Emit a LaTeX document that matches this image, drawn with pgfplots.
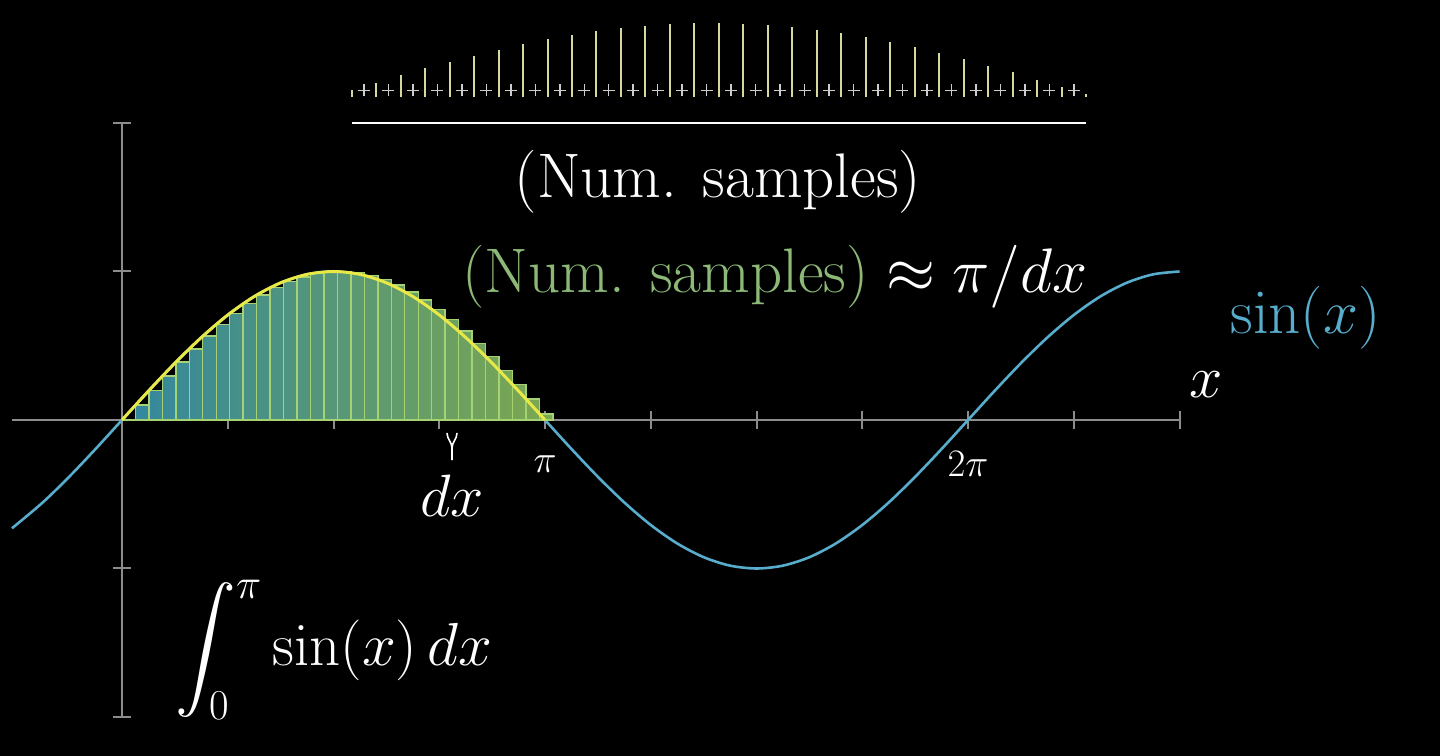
\RequirePackage{fix-cm}
\documentclass[border=0pt]{standalone}
\usepackage{pgfplots}
\pgfplotsset{compat=1.18}
\usetikzlibrary{backgrounds}
\DeclareFontShape{OMX}{cmex}{m}{n}{<->cmex10}{}

\definecolor{axisgray}{RGB}{140,140,140}
\definecolor{sinblue}{RGB}{88,172,204}
\definecolor{curveyellow}{RGB}{232,232,70}
\definecolor{barleft}{RGB}{50,135,160}
\definecolor{barmid}{RGB}{62,150,125}
\definecolor{barright}{RGB}{125,168,78}
\definecolor{edgecol}{RGB}{165,210,115}
\definecolor{numgreen}{RGB}{140,185,120}
\definecolor{toplines}{RGB}{215,215,160}
\definecolor{pluscol}{RGB}{205,205,205}

\newcommand{\bigfont}{\fontsize{31.6}{38}\selectfont}
\newcommand{\midfont}{\fontsize{30}{36}\selectfont}
\newcommand{\intfont}{\fontsize{30.5}{36}\selectfont}
\newcommand{\smallfont}{\fontsize{19.5}{23}\selectfont}

\begin{document}
\begin{tikzpicture}
\begin{axis}[
  x=67.325bp, y=74.25bp,
  xmin=-0.817, xmax=7.854, ymin=-2, ymax=2,
  axis lines=middle, enlargelimits=false, clip=false,
  axis line style={draw=axisgray, line width=1bp, -},
  xtick={0.7854,1.5708,2.3562,3.1416,3.9270,4.7124,5.4978,6.2832,7.0686,7.8539},
  xticklabels={,,,$\pi$,,,,$2\pi$,,},
  xticklabel style={font=\smallfont, text=white, anchor=center, yshift=-17.5bp},
  ytick={-2,-1,1,2},
  yticklabel={},
  tick align=center, major tick length=9bp,
  tick style={draw=axisgray, line width=1bp},
]
\coordinate (bl) at (axis cs:-0.9061,-2.2626);
\coordinate (tr) at (axis cs:9.7884,2.8283);
\coordinate (o2) at (axis cs:1.5240,2.1731);

% sin(x) over the whole range
\addplot[sinblue, line width=1.3bp, smooth, mark=none] coordinates {
(-0.817,-0.7291) (-0.5890,-0.55557) (-0.3927,-0.38268) (-0.19635,-0.19509)
(0,0) (0.19635,0.19509) (0.39270,0.38268) (0.58905,0.55557) (0.78540,0.70711)
(0.98175,0.83147) (1.17810,0.92388) (1.37445,0.98079) (1.57080,1)
(1.76715,0.98079) (1.96350,0.92388) (2.15984,0.83147) (2.35619,0.70711)
(2.55254,0.55557) (2.74889,0.38268) (2.94524,0.19509) (3.14159,0)
(3.33794,-0.19509) (3.53429,-0.38268) (3.73064,-0.55557) (3.92699,-0.70711)
(4.12334,-0.83147) (4.31969,-0.92388) (4.51604,-0.98079) (4.71239,-1)
(4.90874,-0.98079) (5.10509,-0.92388) (5.30144,-0.83147) (5.49779,-0.70711)
(5.69414,-0.55557) (5.89049,-0.38268) (6.08684,-0.19509) (6.28319,0)
(6.47953,0.19509) (6.67588,0.38268) (6.87223,0.55557) (7.06858,0.70711)
(7.26493,0.83147) (7.46128,0.92388) (7.65763,0.98079) (7.85398,1)};

% Riemann rectangles, dx = 0.1 (left endpoints)
\addplot[const plot, draw=none, left color=barleft, middle color=barmid, right color=barright, mark=none] coordinates {
(0,0) (0.1,0.0998) (0.2,0.1987) (0.3,0.2955) (0.4,0.3894) (0.5,0.4794)
(0.6,0.5646) (0.7,0.6442) (0.8,0.7174) (0.9,0.7833) (1.0,0.8415)
(1.1,0.8912) (1.2,0.9320) (1.3,0.9636) (1.4,0.9854) (1.5,0.9975)
(1.6,0.9996) (1.7,0.9917) (1.8,0.9738) (1.9,0.9463) (2.0,0.9093)
(2.1,0.8632) (2.2,0.8085) (2.3,0.7457) (2.4,0.6755) (2.5,0.5985)
(2.6,0.5155) (2.7,0.4274) (2.8,0.3350) (2.9,0.2392) (3.0,0.1411)
(3.1,0.0416) (3.2,0)} \closedcycle;
\addplot[ybar interval, draw=edgecol, line width=0.7bp, fill=none, mark=none] coordinates {
(0,0) (0.1,0.0998) (0.2,0.1987) (0.3,0.2955) (0.4,0.3894) (0.5,0.4794)
(0.6,0.5646) (0.7,0.6442) (0.8,0.7174) (0.9,0.7833) (1.0,0.8415)
(1.1,0.8912) (1.2,0.9320) (1.3,0.9636) (1.4,0.9854) (1.5,0.9975)
(1.6,0.9996) (1.7,0.9917) (1.8,0.9738) (1.9,0.9463) (2.0,0.9093)
(2.1,0.8632) (2.2,0.8085) (2.3,0.7457) (2.4,0.6755) (2.5,0.5985)
(2.6,0.5155) (2.7,0.4274) (2.8,0.3350) (2.9,0.2392) (3.0,0.1411)
(3.1,0.0416) (3.2,0)};

% highlighted arc from 0 to pi
\addplot[curveyellow, line width=1.5bp, smooth, mark=none] coordinates {
(0,0) (0.19635,0.19509) (0.39270,0.38268) (0.58905,0.55557) (0.78540,0.70711)
(0.98175,0.83147) (1.17810,0.92388) (1.37445,0.98079) (1.57080,1)
(1.76715,0.98079) (1.96350,0.92388) (2.15984,0.83147) (2.35619,0.70711)
(2.55254,0.55557) (2.74889,0.38268) (2.94524,0.19509) (3.14159,0)};

\node[text=white, font=\midfont] at (axis cs:8.05,0.236) {$x$};
\node[text=sinblue, font=\bigfont] at (axis cs:8.79,0.687) {$\sin(x)$};
\node[text=white, font=\midfont] at (axis cs:2.451,-0.512) {$dx$};
\draw[white, line width=0.8bp] (axis cs:2.4137,-0.0875) to[out=-90,in=90] (axis cs:2.4508,-0.19) -- (axis cs:2.4508,-0.27);
\draw[white, line width=0.8bp] (axis cs:2.4879,-0.0875) to[out=-90,in=90] (axis cs:2.4508,-0.19);
\node[text=white, font=\bigfont] at (axis cs:4.426,1.603) {(Num. samples)};
\node[text=white, font=\bigfont] at (axis cs:4.850,0.963) {$\mbox{\color{numgreen}(Num. samples)}\approx\pi/dx$};
\node[text=white, font=\intfont, anchor=base west, inner sep=0pt] at (axis cs:0.394,-1.650) {$\displaystyle\int_0^\pi \sin(x)\,dx$};
\end{axis}

% sample ruler above the chart
\begin{axis}[
  at={(o2)}, anchor=south west,
  x=12.24bp, y=37bp,
  xmin=0, xmax=32, ymin=0, ymax=1.1,
  hide axis, clip=false,
]
\addplot[ycomb, draw=toplines, line width=1bp, mark=none] coordinates {
(1,0.0998) (2,0.1987) (3,0.2955) (4,0.3894) (5,0.4794)
(6,0.5646) (7,0.6442) (8,0.7174) (9,0.7833) (10,0.8415)
(11,0.8912) (12,0.9320) (13,0.9636) (14,0.9854) (15,0.9975)
(16,0.9996) (17,0.9917) (18,0.9738) (19,0.9463) (20,0.9093)
(21,0.8632) (22,0.8085) (23,0.7457) (24,0.6755) (25,0.5985)
(26,0.5155) (27,0.4274) (28,0.3350) (29,0.2392) (30,0.1411)
(31,0.0416)};
\addplot[only marks, mark=+, mark size=3bp, mark options={draw=pluscol, line width=0.75bp}] coordinates {
(1.5,0.092) (2.5,0.092) (3.5,0.092) (4.5,0.092) (5.5,0.092) (6.5,0.092)
(7.5,0.092) (8.5,0.092) (9.5,0.092) (10.5,0.092) (11.5,0.092) (12.5,0.092)
(13.5,0.092) (14.5,0.092) (15.5,0.092) (16.5,0.092) (17.5,0.092) (18.5,0.092)
(19.5,0.092) (20.5,0.092) (21.5,0.092) (22.5,0.092) (23.5,0.092) (24.5,0.092)
(25.5,0.092) (26.5,0.092) (27.5,0.092) (28.5,0.092) (29.5,0.092) (30.5,0.092)};
\addplot[white, line width=1.3bp, mark=none] coordinates {(1,-0.347) (31,-0.347)};
\end{axis}

\begin{scope}[on background layer]
\fill[black] (bl) rectangle (tr);
\end{scope}
\pgfresetboundingbox
\useasboundingbox (bl) rectangle (tr);
\end{tikzpicture}
\end{document}
